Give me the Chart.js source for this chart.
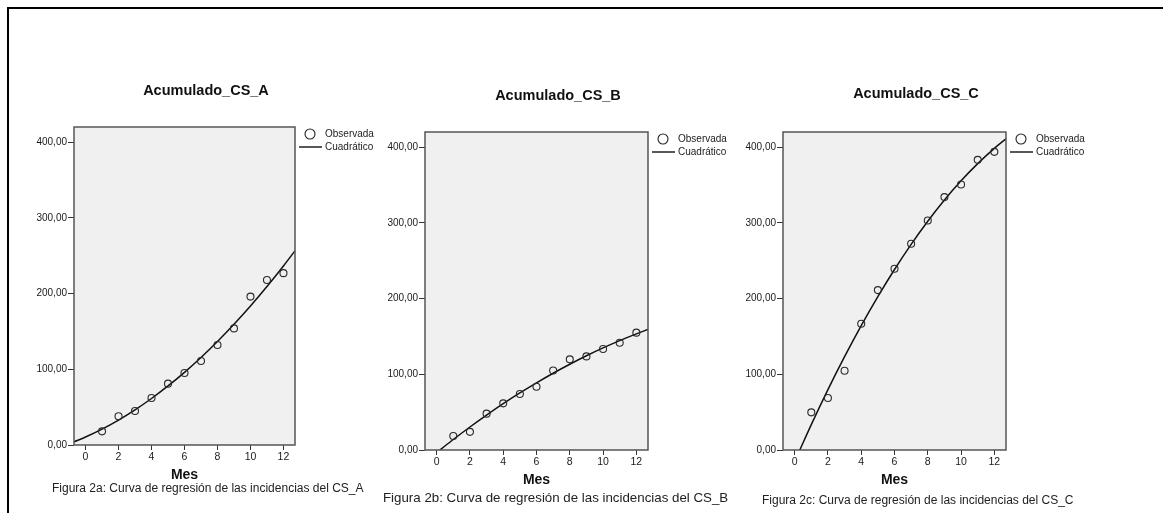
<!DOCTYPE html>
<html>
<head>
<meta charset="utf-8">
<script src="https://cdn.jsdelivr.net/npm/chart.js@4/dist/chart.umd.min.js"></script>
<style>
  html, body { margin: 0; padding: 0; background: #fff; }
  body { width: 1163px; height: 513px; position: relative; overflow: hidden; font-family: 'Liberation Sans', Arial, sans-serif; color: #111; }
  .frame { position: absolute; left: 7px; top: 7px; width: 1200px; height: 600px; border-left: 2px solid #000; border-top: 2px solid #000; }
  canvas { position: absolute; top: 0; }
  .title { position: absolute; width: 300px; text-align: center; font-weight: bold; font-size: 14.5px; line-height: 18px; }
  .caption { position: absolute; font-size: 12px; line-height: 14px; white-space: nowrap; color: #222; }
</style>
</head>
<body>
<div class="frame"></div>
<canvas id="chartA" width="375" height="513" style="left:0px"></canvas>
<canvas id="chartB" width="365" height="513" style="left:375px"></canvas>
<canvas id="chartC" width="423" height="513" style="left:740px"></canvas>

<div class="title" style="left:56px; top:81px">Acumulado_CS_A</div>
<div class="title" style="left:408px; top:86px">Acumulado_CS_B</div>
<div class="title" style="left:766px; top:84px">Acumulado_CS_C</div>

<div class="caption" style="left:52px; top:481px">Figura 2a: Curva de regresión de las incidencias del CS_A</div>
<div class="caption" style="left:383px; top:491px; font-size:13.3px">Figura 2b: Curva de regresión de las incidencias del CS_B</div>
<div class="caption" style="left:762px; top:493px">Figura 2c: Curva de regresión de las incidencias del CS_C</div>

<script>
// Months and observed cumulative incidences
const months = [1, 2, 3, 4, 5, 6, 7, 8, 9, 10, 11, 12];
const obsA = [18, 38, 45, 62, 81, 95, 111, 132, 154, 196, 218, 227];
const obsB = [18.5, 24, 48, 61.6, 74, 83.6, 105, 119.7, 123.6, 133.3, 141.7, 155];
const obsC = [49.7, 68.6, 104.7, 166.8, 211.2, 239.4, 272.4, 303.2, 334, 350.7, 383.2, 393.8];

// Quadratic fit curves
const fitMonthsA = [-0.7, 0, 1, 2, 3, 4, 5, 6, 7, 8, 9, 10, 11, 12, 12.7];
const fitA = [4.1, 10.5, 20.9, 32.9, 46.4, 61.4, 78, 96, 115.6, 136.7, 159.4, 183.6, 209.3, 236.5, 256.4];
const fitMonthsB = [0.19, 1, 2, 3, 4, 5, 6, 7, 8, 9, 10, 11, 12, 12.7];
const fitB = [0, 13.9, 30.4, 46.1, 61.1, 75.3, 88.7, 101.4, 113.3, 124.5, 134.9, 144.5, 153.4, 159.2];
const fitMonthsC = [0.31, 1, 2, 3, 4, 5, 6, 7, 8, 9, 10, 11, 12, 12.7];
const fitC = [0, 33.6, 79.8, 123.3, 164.3, 202.6, 238.4, 271.6, 302.1, 330.1, 355.5, 378.2, 398.4, 411];

// Axis ticks
const xTicks = [0, 2, 4, 6, 8, 10, 12];
const yTicks = [0, 100, 200, 300, 400];
const legendLabels = ['Observada', 'Cuadrático'];

Chart.defaults.animation = false;
Chart.defaults.font.family = "'Liberation Sans', Arial, sans-serif";
Chart.defaults.color = '#1a1a1a';

const toPoints = (xs, ys) => xs.map((x, i) => ({ x: x, y: ys[i] }));

// grey plot background + frame
const plotFrame = {
    id: 'plotFrame',
    beforeDatasetsDraw(chart) {
        const a = chart.chartArea, ctx = chart.ctx;
        ctx.save();
        ctx.fillStyle = '#f0f0f0';
        ctx.fillRect(a.left, a.top, a.right - a.left, a.bottom - a.top);
        ctx.restore();
    },
    afterDatasetsDraw(chart) {
        const a = chart.chartArea, ctx = chart.ctx;
        ctx.save();
        ctx.strokeStyle = '#555';
        ctx.lineWidth = 1.5;
        ctx.strokeRect(a.left, a.top, a.right - a.left, a.bottom - a.top);
        ctx.restore();
    }
};

// SPSS style legend to the right of the plot
const sideLegend = {
    id: 'sideLegend',
    afterDraw(chart) {
        const a = chart.chartArea, ctx = chart.ctx;
        const x = a.right, y1 = a.top + 7, y2 = a.top + 20;
        ctx.save();
        ctx.strokeStyle = '#222';
        ctx.lineWidth = 1.1;
        ctx.beginPath();
        ctx.arc(x + 15, y1, 5, 0, Math.PI * 2);
        ctx.stroke();
        ctx.strokeStyle = '#111';
        ctx.lineWidth = 1.4;
        ctx.beginPath();
        ctx.moveTo(x + 4, y2);
        ctx.lineTo(x + 27, y2);
        ctx.stroke();
        ctx.fillStyle = '#222';
        ctx.font = "10px 'Liberation Sans', Arial, sans-serif";
        ctx.textBaseline = 'middle';
        ctx.fillText(chart.data.datasets[0].label, x + 30, y1);
        ctx.fillText(chart.data.datasets[1].label, x + 30, y2);
        ctx.restore();
    }
};

function makePanel(id, obs, fitX, fitY, yAxisWidth, pad) {
    const ctx = document.getElementById(id).getContext('2d');
    new Chart(ctx, {
        type: 'scatter',
        data: {
            datasets: [{
                label: legendLabels[0],
                data: toPoints(months, obs),
                pointStyle: 'circle',
                pointRadius: 3.5,
                pointBorderWidth: 1.1,
                borderColor: '#2a2a2a',
                backgroundColor: 'rgba(0,0,0,0)',
                order: 1
            }, {
                label: legendLabels[1],
                data: toPoints(fitX, fitY),
                showLine: true,
                pointRadius: 0,
                borderColor: '#111',
                borderWidth: 1.5,
                cubicInterpolationMode: 'monotone',
                order: 2
            }]
        },
        options: {
            responsive: false,
            layout: { padding: pad },
            plugins: {
                legend: { display: false },
                tooltip: { enabled: false }
            },
            scales: {
                x: {
                    type: 'linear',
                    min: -0.7,
                    max: 12.7,
                    afterBuildTicks: s => { s.ticks = xTicks.map(v => ({ value: v })); },
                    afterFit: s => { s.height = 38.4; },
                    grid: { drawOnChartArea: false, drawTicks: true, tickLength: 5, tickColor: '#333' },
                    border: { display: false },
                    ticks: { font: { size: 10.5 }, padding: 1, maxRotation: 0 },
                    title: {
                        display: true,
                        text: 'Mes',
                        font: { size: 14, weight: 'bold' },
                        color: '#111',
                        padding: 0
                    }
                },
                y: {
                    min: 0,
                    max: 420,
                    afterBuildTicks: s => { s.ticks = yTicks.map(v => ({ value: v })); },
                    afterFit: s => { s.width = yAxisWidth; },
                    grid: { drawOnChartArea: false, drawTicks: true, tickLength: 6, tickColor: '#333' },
                    border: { display: false },
                    ticks: {
                        font: { size: 10 },
                        padding: 1,
                        callback: v => v.toFixed(2).replace('.', ',')
                    }
                }
            }
        },
        plugins: [plotFrame, sideLegend]
    });
}

makePanel('chartA', obsA, fitMonthsA, fitA, 74, { left: 0, right: 80, top: 127, bottom: 29.6 });
makePanel('chartB', obsB, fitMonthsB, fitB, 50, { left: 0, right: 92, top: 132, bottom: 24.6 });
makePanel('chartC', obsC, fitMonthsC, fitC, 43, { left: 0, right: 157, top: 132, bottom: 24.6 });
</script>
</body>
</html>
